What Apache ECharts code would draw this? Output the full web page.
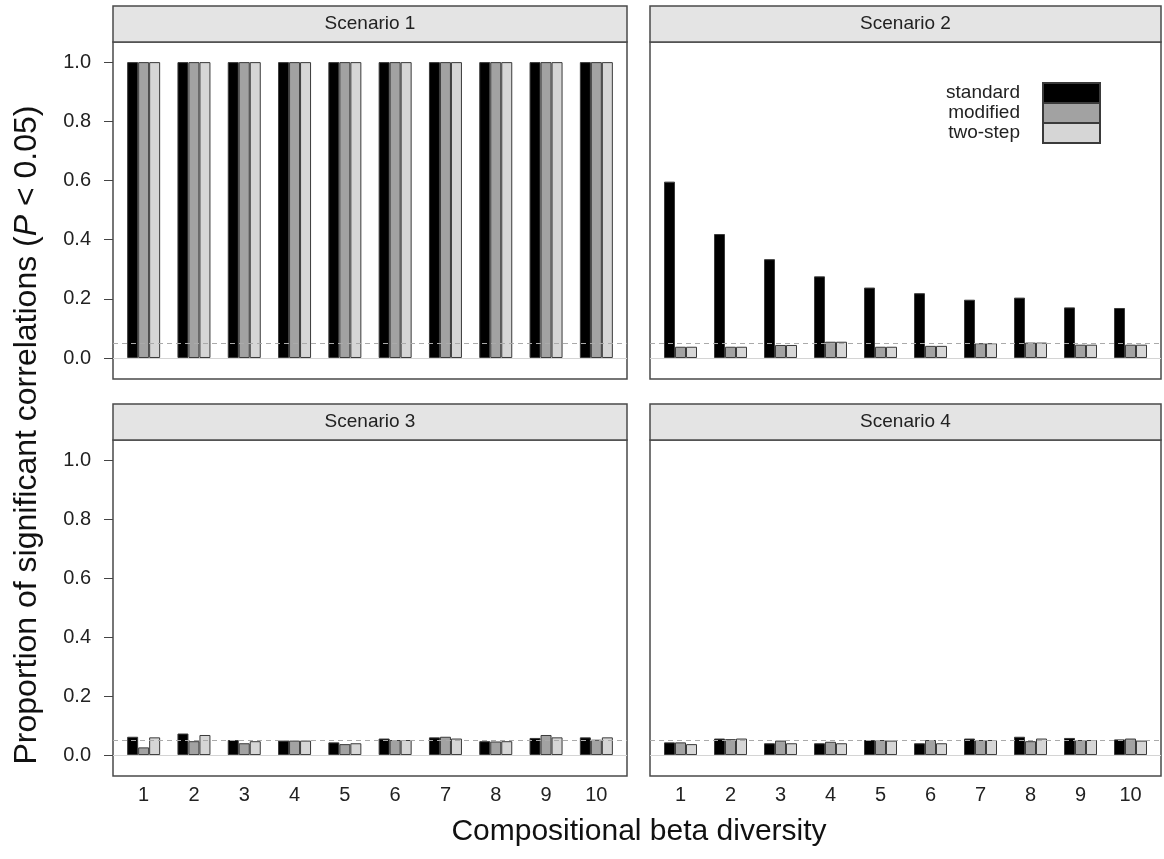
<!DOCTYPE html>
<html>
<head>
<meta charset="utf-8">
<script src="https://cdn.jsdelivr.net/npm/echarts@6/dist/echarts.min.js"></script>
<style>
  html, body { margin: 0; padding: 0; background: #fff; }
  #chart { width: 1164px; height: 859px; }
</style>
</head>
<body>
<div id="chart"></div>
<script>
var categories = ['1', '2', '3', '4', '5', '6', '7', '8', '9', '10'];
var methods = ['standard', 'modified', 'two-step'];
var yTicks = [0, 0.2, 0.4, 0.6, 0.8, 1.0];

// proportion of significant correlations
var s1Standard = [1, 1, 1, 1, 1, 1, 1, 1, 1, 1];
var s1Modified = [1, 1, 1, 1, 1, 1, 1, 1, 1, 1];
var s1TwoStep  = [1, 1, 1, 1, 1, 1, 1, 1, 1, 1];

var s2Standard = [0.596, 0.419, 0.334, 0.276, 0.238, 0.219, 0.197, 0.204, 0.171, 0.169];
var s2Modified = [0.038, 0.038, 0.044, 0.055, 0.038, 0.041, 0.050, 0.052, 0.045, 0.045];
var s2TwoStep  = [0.038, 0.038, 0.044, 0.055, 0.038, 0.041, 0.050, 0.052, 0.045, 0.045];

var s3Standard = [0.062, 0.073, 0.051, 0.049, 0.043, 0.056, 0.060, 0.047, 0.058, 0.060];
var s3Modified = [0.026, 0.047, 0.040, 0.049, 0.037, 0.051, 0.062, 0.046, 0.068, 0.052];
var s3TwoStep  = [0.060, 0.068, 0.047, 0.049, 0.040, 0.051, 0.056, 0.047, 0.060, 0.060];

var s4Standard = [0.043, 0.056, 0.040, 0.040, 0.051, 0.040, 0.056, 0.062, 0.058, 0.053];
var s4Modified = [0.043, 0.054, 0.049, 0.045, 0.051, 0.051, 0.051, 0.047, 0.051, 0.056];
var s4TwoStep  = [0.037, 0.056, 0.040, 0.040, 0.049, 0.040, 0.051, 0.056, 0.051, 0.049];

var colors = ['#000000', '#a2a2a2', '#d6d6d6'];
var yMin = -0.071, yMax = 1.068;
var inset = 5.5;
var font = '"Liberation Sans", Arial, Helvetica, sans-serif';

var panels = [
  {title: 'Scenario 1', left: 113, width: 514, top: 42, height: 337, values: [s1Standard, s1Modified, s1TwoStep], yLabels: true, xLabels: false},
  {title: 'Scenario 2', left: 650, width: 511, top: 42, height: 337, values: [s2Standard, s2Modified, s2TwoStep], yLabels: false, xLabels: false},
  {title: 'Scenario 3', left: 113, width: 514, top: 440, height: 336, values: [s3Standard, s3Modified, s3TwoStep], yLabels: true, xLabels: true},
  {title: 'Scenario 4', left: 650, width: 511, top: 440, height: 336, values: [s4Standard, s4Modified, s4TwoStep], yLabels: false, xLabels: true}
];
var stripHeight = 36;

var grid = [], xAxis = [], yAxis = [], series = [], graphic = [];

panels.forEach(function (p, i) {
  var frame = 2 * i, inner = 2 * i + 1;
  grid.push({left: p.left, top: p.top, width: p.width, height: p.height,
    show: true, borderColor: '#4a4a4a', borderWidth: 1.5, backgroundColor: '#fff'});
  grid.push({left: p.left + inset, top: p.top, width: p.width - 2 * inset, height: p.height});

  xAxis.push({gridIndex: frame, type: 'value', min: 0, max: 1, show: false});
  xAxis.push({
    gridIndex: inner, type: 'category', data: categories,
    axisLine: {show: false}, axisTick: {show: false},
    axisLabel: {show: p.xLabels, fontSize: 20, color: '#222', fontFamily: font, margin: 9}
  });

  yAxis.push({
    gridIndex: frame, type: 'value', min: yMin, max: yMax,
    splitLine: {show: false},
    axisLine: {show: false},
    axisTick: {show: p.yLabels, length: 9, customValues: yTicks, lineStyle: {color: '#444', width: 1}},
    axisLabel: {show: p.yLabels, customValues: yTicks, fontSize: 20, color: '#222', fontFamily: font, margin: 22,
      formatter: function (v) { return v.toFixed(1); }}
  });
  yAxis.push({gridIndex: inner, type: 'value', min: yMin, max: yMax, show: false});

  methods.forEach(function (m, k) {
    series.push({
      name: m, type: 'bar', xAxisIndex: inner, yAxisIndex: inner,
      data: p.values[k], barWidth: 11, barGap: '0%',
      itemStyle: {color: colors[k], borderColor: '#3a3a3a', borderWidth: 1},
      emphasis: {disabled: true}, z: 2
    });
  });

  // reference lines at 0 and 0.05 spanning the whole panel
  series.push({
    type: 'line', xAxisIndex: frame, yAxisIndex: frame,
    data: [[0, 0], [1, 0]], symbol: 'none', silent: true,
    lineStyle: {opacity: 0}, z: 5,
    markLine: {
      silent: true, symbol: 'none', label: {show: false}, animation: false,
      data: [
        {yAxis: 0, lineStyle: {color: '#d4d4d4', type: 'solid', width: 1}},
        {yAxis: 0.05, lineStyle: {color: '#aaaaaa', type: [5, 4], width: 1}}
      ]
    }
  });

  graphic.push({
    type: 'group',
    children: [
      {type: 'rect', shape: {x: p.left, y: p.top - stripHeight, width: p.width, height: stripHeight},
        style: {fill: '#e4e4e4', stroke: '#4a4a4a', lineWidth: 1.5}},
      {type: 'text', x: p.left + p.width / 2, y: p.top - stripHeight / 2,
        style: {text: p.title, fontSize: 19, fontFamily: font, fill: '#222', align: 'center', verticalAlign: 'middle'}}
    ]
  });
});

graphic.push({
  type: 'text', x: 27, y: 435, rotation: Math.PI / 2,
  style: {
    text: '{a|Proportion of significant correlations (}{b|P}{a| < 0.05)}',
    align: 'center', verticalAlign: 'middle',
    rich: {
      a: {fontSize: 32, fontFamily: font, fill: '#111'},
      b: {fontSize: 32, fontFamily: font, fill: '#111', fontStyle: 'italic'}
    }
  }
});
graphic.push({
  type: 'text', x: 639, y: 832,
  style: {text: 'Compositional beta diversity', fontSize: 30, fontFamily: font, fill: '#111',
    align: 'center', verticalAlign: 'middle'}
});

var chart = echarts.init(document.getElementById('chart'), null, {renderer: 'canvas'});
chart.setOption({
  backgroundColor: '#fff',
  animation: false,
  grid: grid,
  xAxis: xAxis,
  yAxis: yAxis,
  legend: {
    data: methods, orient: 'vertical', right: 58, top: 77,
    icon: 'rect',
    itemWidth: 57, itemHeight: 20, itemGap: -2, align: 'right',
    selectedMode: false,
    textStyle: {fontSize: 19, color: '#222', fontFamily: font, padding: [0, 18, 0, 0]}
  },
  series: series,
  graphic: graphic
});
</script>
</body>
</html>
